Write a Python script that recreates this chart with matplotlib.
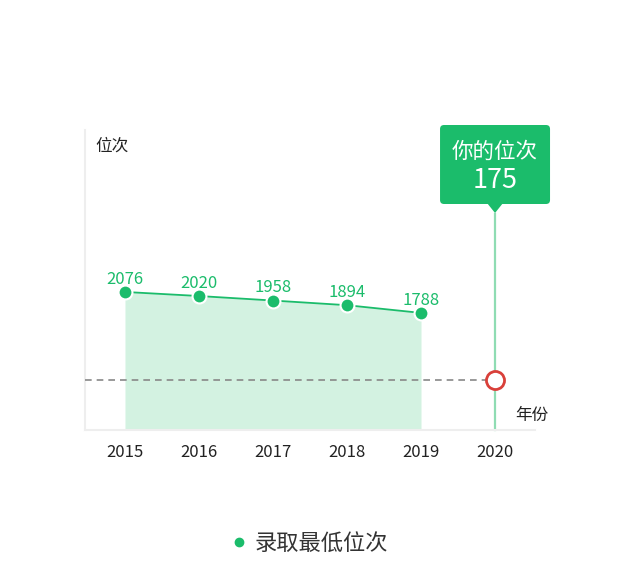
import matplotlib
matplotlib.use("Agg")
from matplotlib import pyplot as plt
from matplotlib.patches import FancyBboxPatch, Polygon
from matplotlib.lines import Line2D
from matplotlib.transforms import IdentityTransform

plt.rcParams['font.family'] = ['Noto Sans CJK SC', 'DejaVu Sans']

# data
years = ["2015", "2016", "2017", "2018", "2019", "2020"]
min_rank = [2076, 2020, 1958, 1894, 1788]
your_rank = 175
series_name = "录取最低位次"

GREEN = "#1bbc6b"
FILL = "#d3f2e1"

W, H = 628, 580
fig = plt.figure(figsize=(W / 100, H / 100), dpi=100)
ax = fig.add_axes([85 / W, 150 / H, 450 / W, 300 / H])

x = list(range(len(min_rank)))
ax.set_xlim(-0.54, len(years) - 0.46)
ax.set_ylim(180, 4300)

ax.fill_between(x, min_rank, 180, color=FILL, linewidth=0, zorder=1)
ax.plot(x, min_rank, color=GREEN, linewidth=1.3, marker="o", markersize=10,
        markerfacecolor=GREEN, markeredgecolor="white", markeredgewidth=1.5, zorder=4)
for xi, v in zip(x, min_rank):
    ax.annotate(str(v), (xi, v), xytext=(0, 3), textcoords="offset points",
                ha="center", va="bottom", color=GREEN, fontsize=12)

# your rank marker (placed at fixed height like in the original chart)
idx = len(years) - 1
mark_frac = 1 / 6
tf = ax.get_xaxis_transform()
ax.plot([-0.54, idx], [mark_frac, mark_frac], transform=tf, color="#888888",
        linestyle=(0, (4, 3)), linewidth=1.2, zorder=3)
ax.plot([idx, idx], [0, 0.72], transform=tf, color="#8fdcb3", linewidth=1.6,
        zorder=2, clip_on=False)
ax.plot([idx], [mark_frac], transform=tf, marker="o", markersize=13,
        markerfacecolor="white", markeredgecolor="#d9403a", markeredgewidth=2,
        zorder=5, clip_on=False)

# tooltip box
fig.canvas.draw()
cx = ax.transData.transform((idx, 0))[0]
box_top = H - 125
box_bot = H - 204
box = FancyBboxPatch((cx - 52, box_bot + 3), 104, box_top - box_bot - 6,
                     boxstyle="round,pad=3,rounding_size=4", transform=IdentityTransform(),
                     facecolor=GREEN, edgecolor="none", zorder=6)
fig.patches.append(box)
tri = Polygon([[cx - 8, box_bot + 1], [cx + 8, box_bot + 1], [cx, H - 213]], closed=True,
              transform=IdentityTransform(), facecolor=GREEN, edgecolor="none", zorder=6)
fig.patches.append(tri)
fig.text(cx / W, 1 - 152 / H, "你的位次", color="white", fontsize=15.5,
         ha="center", va="center", zorder=8)
fig.text(cx / W, 1 - 180 / H, str(your_rank), color="white", fontsize=19.5,
         fontweight="medium", ha="center", va="center", zorder=8)

# axes styling
for s in ["top", "right"]:
    ax.spines[s].set_visible(False)
for s in ["left", "bottom"]:
    ax.spines[s].set_color("#eeeeee")
    ax.spines[s].set_linewidth(1.5)
ax.set_xticks(range(len(years)))
ax.set_xticklabels(years)
ax.set_yticks([])
ax.tick_params(axis="x", length=0, pad=10, labelsize=12, labelcolor="#222222")

ax.text(10 / 450, 0.947, "位次", transform=ax.transAxes, fontsize=12,
        color="#222222", ha="left", va="center")
ax.text(1.031, 0.05, "年份", transform=ax.transAxes, fontsize=12,
        color="#222222", ha="right", va="center")

handle = Line2D([], [], color=GREEN, marker="o", linestyle="none", markersize=6)
fig.legend([handle], [series_name], loc="center", bbox_to_anchor=(0.49, 1 - 543 / H),
           frameon=False, fontsize=16, handletextpad=0.2, handlelength=1.0,
           labelcolor="#333333")

fig.savefig("out.png", dpi=100)
